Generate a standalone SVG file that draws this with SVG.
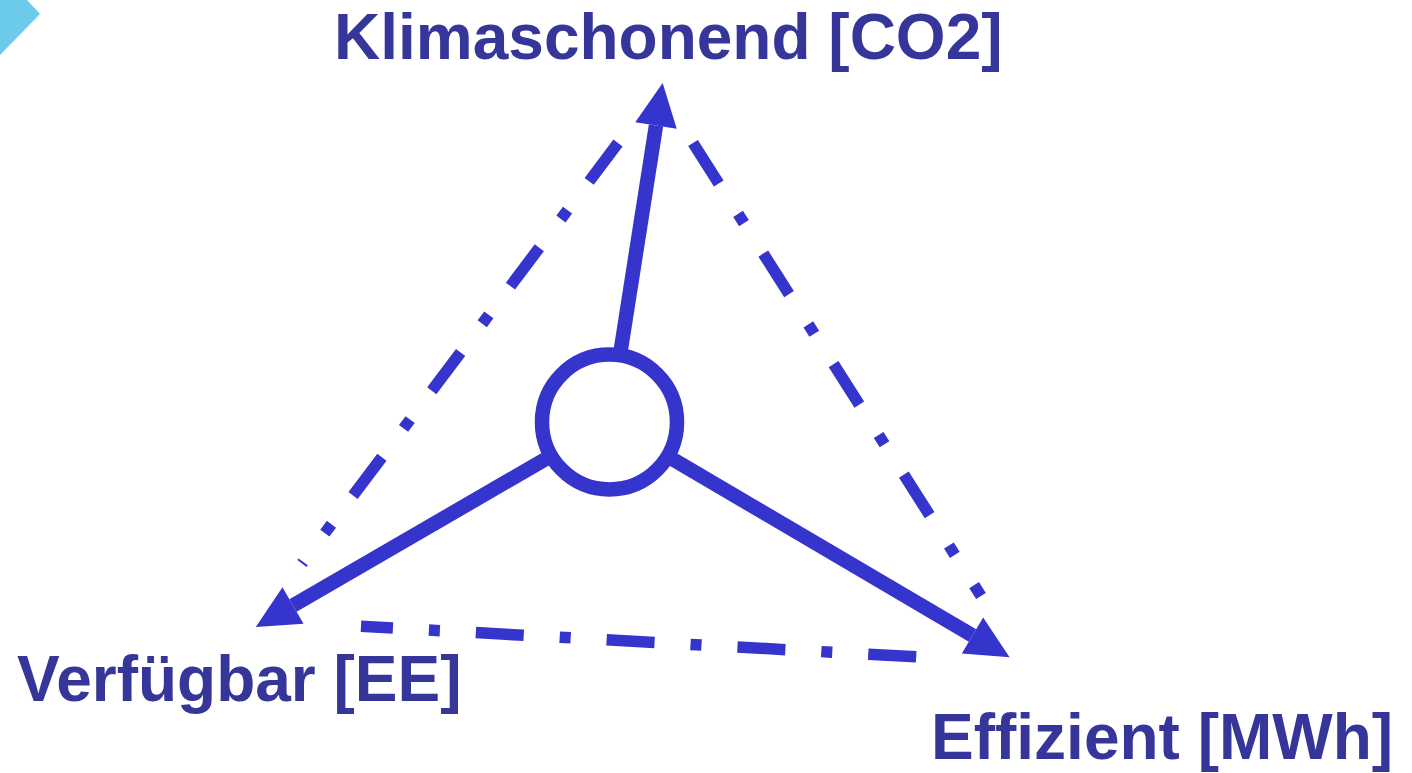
<svg xmlns="http://www.w3.org/2000/svg" width="1412" height="773" viewBox="0 0 1412 773">
  <style>
    .label { font-family: "Liberation Sans", Arial, sans-serif; font-weight: bold; font-size: 64px; fill: #36369a; }
    .shaft { stroke: #3534cc; stroke-width: 14.5; fill: none; }
    .edge { stroke: #3534cc; stroke-width: 11.5; fill: none; stroke-dasharray: 48 36 11 36; }
    .hub { stroke: #3534cc; stroke-width: 14.5; fill: #ffffff; }
  </style>
  <defs>
    <marker id="head" markerUnits="userSpaceOnUse" markerWidth="44" markerHeight="44" refX="0" refY="21" orient="auto" overflow="visible">
      <path d="M0,0 L43,21 L0,42 Z" fill="#3534cc"/>
    </marker>
  </defs>

  <rect width="1412" height="773" fill="#ffffff"/>

  <!-- corner decoration -->
  <polygon points="0,0 27,0 40,14 0,55" fill="#6ccaea"/>

  <!-- dash-dot triangle and radial arrows -->
  <g id="connectors">
    <path class="edge" d="M618,143 L302,563.5"/>
    <path class="edge" d="M693,143 L981,596"/>
    <path class="edge" d="M361,626.3 L921,657.1" stroke-width="12.5" stroke-dashoffset="16"/>
    <path class="shaft" d="M609.5,422 L656,125.5" marker-end="url(#head)"/>
    <path class="shaft" d="M609.5,422 L293,605.5" marker-end="url(#head)"/>
    <path class="shaft" d="M609.5,422 L972.5,635.5" marker-end="url(#head)"/>
  </g>

  <g id="hub">
    <circle class="hub" cx="609.5" cy="422" r="67.5"/>
  </g>

  <g id="klimaschonend">
    <text class="label" x="334" y="59">Klimaschonend [CO2]</text>
  </g>
  <g id="verfuegbar">
    <text class="label" x="17" y="701">Verfügbar [EE]</text>
  </g>
  <g id="effizient">
    <text class="label" x="931" y="759">Effizient [MWh]</text>
  </g>
</svg>
